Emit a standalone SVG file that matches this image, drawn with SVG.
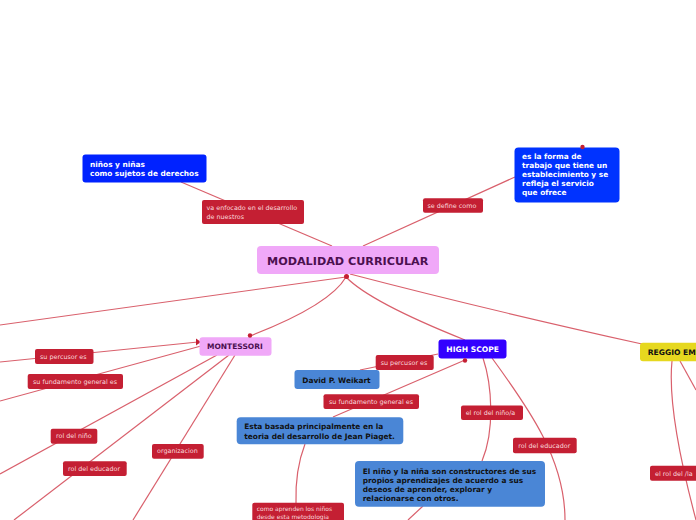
<svg xmlns="http://www.w3.org/2000/svg" width="696" height="520" viewBox="0 0 696 520">
<style>
text{font-family:"DejaVu Sans",Verdana,sans-serif}
.c{fill:none;stroke:#d9606c;stroke-width:1.2}
.lab rect{fill:#c41f33}
.lab text{fill:#fadadd;font-size:6.4px}
.blue text,.lb text{font-weight:bold;font-size:7.4px}
.blue text{fill:#fff}
.lb rect{fill:#4a86d6}
.lb text{fill:#111}
.dot{fill:#c41f33}
</style>
<rect width="696" height="520" fill="#fff"/>
<g id="connectors">
<path class="c" d="M332,246 L181,182"/>
<path class="c" d="M363,246 L515,177"/>
<path class="c" d="M346,277 L0,325"/>
<path class="c" d="M346,277 Q330,305 250,336"/>
<path class="c" d="M346,277 Q370,302 465,340"/>
<path class="c" d="M350,274 Q480,308 642,344"/>
<path class="c" d="M0,362 L198,342"/>
<path class="c" d="M0,401 L201,346"/>
<path class="c" d="M0,474 L217,355"/>
<path class="c" d="M14,520 L229,355"/>
<path class="c" d="M133,520 L235,355"/>
<path class="c" d="M438,354 L360,370"/>
<path class="c" d="M465,360 L333,417"/>
<path class="c" d="M305,444 Q295,470 296,503"/>
<path class="c" d="M483,358 C492,385 495,430 482,461"/>
<path class="c" d="M423,506 L408,520"/>
<path class="c" d="M492,358 C530,410 565,460 565,520"/>
<path class="c" d="M672,361 C668,400 680,460 696,520"/>
<path class="c" d="M680,361 L696,390"/>
<path class="dot" d="M196,338.5 L201,342 L196,345.5 Z"/>
</g>
<g id="central">
<rect x="257" y="246" width="182" height="28" rx="4" fill="#f0a8f8"/>
<text x="267" y="264.5" font-size="11.2" font-weight="bold" fill="#4b0f4f">MODALIDAD CURRICULAR</text>
<circle class="dot" cx="346.5" cy="276.5" r="2.5"/>
</g>
<g id="ninos" class="blue">
<rect x="82.5" y="154.5" width="124" height="28" rx="3" fill="#0022ff"/>
<text x="90" y="166.7">niños y niñas</text>
<text x="90" y="175.7">como sujetos de derechos</text>
</g>
<g id="va-enfocado" class="lab">
<rect x="202" y="200" width="102" height="24" rx="2"/>
<text x="206.5" y="210">va enfocado en el desarrollo</text>
<text x="206.5" y="218.7">de nuestros</text>
</g>
<g id="se-define" class="lab">
<rect x="423" y="198.3" width="60" height="14.5" rx="2"/>
<text x="427.5" y="207.7">se define como</text>
</g>
<g id="forma" class="blue">
<rect x="514.5" y="147.5" width="105" height="55" rx="4" fill="#0033ff"/>
<text x="522" y="159.3">es la forma de</text>
<text x="522" y="168.3">trabajo que tiene un</text>
<text x="522" y="177.3">establecimiento y se</text>
<text x="522" y="186.3">refleja el servicio</text>
<text x="522" y="195.3">que ofrece</text>
<circle class="dot" cx="582.5" cy="147" r="2.2"/>
</g>
<g id="montessori">
<rect x="199.5" y="337.3" width="72" height="18.5" rx="3" fill="#f0a8f8"/>
<text x="207" y="349.3" font-size="7.5" font-weight="bold" fill="#4b0f4f">MONTESSORI</text>
<circle class="dot" cx="250" cy="335.5" r="2.2"/>
</g>
<g id="m-percusor" class="lab">
<rect x="35" y="349" width="58.5" height="15" rx="2"/>
<text x="40" y="358.6">su percusor es</text>
</g>
<g id="m-fundamento" class="lab">
<rect x="27.7" y="374" width="95.3" height="15" rx="2"/>
<text x="33" y="383.9">su fundamento general es</text>
</g>
<g id="m-rol-nino" class="lab">
<rect x="50.7" y="428.7" width="46.6" height="15" rx="2"/>
<text x="56" y="438.4">rol del niño</text>
</g>
<g id="m-rol-educador" class="lab">
<rect x="63" y="461.3" width="63.7" height="14.7" rx="2"/>
<text x="68" y="470.7">rol del educador</text>
</g>
<g id="m-organizacion" class="lab">
<rect x="152" y="444" width="51.7" height="14.7" rx="2"/>
<text x="157" y="453.3">organizacion</text>
</g>
<g id="highscope">
<rect x="438.5" y="339.5" width="68" height="19" rx="3" fill="#3300ff"/>
<text x="446.3" y="351.9" font-size="7.6" font-weight="bold" fill="#fff">HIGH SCOPE</text>
<circle class="dot" cx="465" cy="360.5" r="2.2"/>
</g>
<g id="h-percusor" class="lab">
<rect x="375.7" y="355" width="58" height="15" rx="2"/>
<text x="380.7" y="364.7">su percusor es</text>
</g>
<g id="weikart" class="lb">
<rect x="294.5" y="370" width="85" height="19" rx="3"/>
<text x="302.3" y="382.5" font-size="7.5">David P. Weikart</text>
</g>
<g id="h-fundamento" class="lab">
<rect x="323.5" y="394.3" width="95.5" height="14.7" rx="2"/>
<text x="329" y="404.1">su fundamento general es</text>
</g>
<g id="basada" class="lb">
<rect x="236.7" y="417.3" width="166.6" height="27" rx="4"/>
<text x="244.3" y="429.4">Esta basada principalmente en la</text>
<text x="244.3" y="439.1">teoria del desarrollo de Jean Piaget.</text>
</g>
<g id="como-aprenden" class="lab">
<rect x="252.3" y="502.7" width="91.7" height="22" rx="2"/>
<text x="256.7" y="510.6" style="font-size:6px">como aprenden los niños</text>
<text x="256.7" y="518.6" style="font-size:6px">desde esta metodologia</text>
</g>
<g id="h-rol-nino" class="lab">
<rect x="461" y="405.5" width="62" height="14.5" rx="2"/>
<text x="465.7" y="415.1">el rol del niño/a</text>
</g>
<g id="constructores" class="lb">
<rect x="355" y="461" width="190" height="45.7" rx="4"/>
<text x="362.7" y="473.6" font-size="7.1">El niño y la niña son constructores de sus</text>
<text x="362.7" y="482.6" font-size="7.1">propios aprendizajes de acuerdo a sus</text>
<text x="362.7" y="491.6" font-size="7.1">deseos de aprender, explorar y</text>
<text x="362.7" y="500.6" font-size="7.1">relacionarse con otros.</text>
</g>
<g id="h-rol-educador" class="lab">
<rect x="513" y="437.7" width="63.7" height="15.6" rx="2"/>
<text x="518.3" y="447.9">rol del educador</text>
</g>
<g id="reggio">
<rect x="640" y="342.7" width="62" height="18.5" rx="3" fill="#e6d81f"/>
<text x="647.7" y="354.9" font-size="7.6" font-weight="bold" fill="#111">REGGIO EM</text>
</g>
<g id="r-rol" class="lab">
<rect x="650" y="465.7" width="52" height="15" rx="2"/>
<text x="655" y="475.9">el rol del /la</text>
</g>
</svg>
